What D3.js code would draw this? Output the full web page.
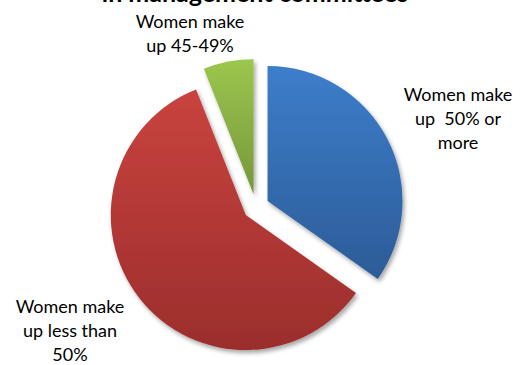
<!DOCTYPE html>
<html>
<head>
<meta charset="utf-8">
<script src="https://cdn.jsdelivr.net/npm/d3@7"></script>
<style>
  body { margin: 0; background: #fff; }
  svg { display: block; }
</style>
</head>
<body>
<svg id="chart"></svg>
<script>
var width = 522;
var height = 365;

// data
var categories = ["Women make up 50% or more", "Women make up less than 50%", "Women make up 45-49%"];
var values = [34.8, 59.2, 6.0];
var labelLines = [
  ["Women make", "up  50% or", "more"],
  ["Women make", "up less than", "50%"],
  ["Women make", "up 45-49%"]
];
var titleText = "in management committees";

// styles / layout
var topColors = ["#3d7dcb", "#c9433f", "#9cc64e"];
var bottomColors = ["#2c5c97", "#9b2e2c", "#76973a"];
var cx = 256, cy = 207, radius = 135, explode = 13;
var labelPos = [[458, 101], [70, 313], [190, 28]];
var lineHeight = 24;

var svg = d3.select("#chart")
  .attr("width", width)
  .attr("height", height);

var defs = svg.append("defs");
var shadow = defs.append("filter")
  .attr("id", "shadow")
  .attr("x", "-20%").attr("y", "-20%")
  .attr("width", "140%").attr("height", "140%");
shadow.append("feDropShadow")
  .attr("dx", 2).attr("dy", 3)
  .attr("stdDeviation", 2.2)
  .attr("flood-color", "#000")
  .attr("flood-opacity", 0.35);

values.forEach(function(v, i){
  var g = defs.append("linearGradient")
    .attr("id", "grad" + i)
    .attr("x1", 0).attr("y1", 0)
    .attr("x2", 0).attr("y2", 1);
  g.append("stop").attr("offset", "0%").attr("stop-color", topColors[i]);
  g.append("stop").attr("offset", "100%").attr("stop-color", bottomColors[i]);
});

var pie = d3.pie().sort(null).value(function(d){ return d; });
var arc = d3.arc().innerRadius(0).outerRadius(radius);
var arcs = pie(values);

var pieG = svg.append("g")
  .attr("transform", "translate(" + cx + "," + cy + ")");

pieG.selectAll("path")
  .data(arcs)
  .join("path")
  .attr("d", arc)
  .attr("fill", function(d, i){ return "url(#grad" + i + ")"; })
  .attr("filter", "url(#shadow)")
  .attr("transform", function(d){
    var mid = (d.startAngle + d.endAngle) / 2;
    return "translate(" + (Math.sin(mid) * explode) + "," + (-Math.cos(mid) * explode) + ")";
  })
  .append("title")
  .text(function(d, i){ return categories[i]; });

// labels
labelLines.forEach(function(lines, i){
  var t = svg.append("text")
    .attr("text-anchor", "middle")
    .attr("font-family", "Lato, 'Liberation Sans', sans-serif")
    .attr("font-size", "18px")
    .attr("fill", "#000");
  lines.forEach(function(line, j){
    t.append("tspan")
      .attr("x", labelPos[i][0])
      .attr("y", labelPos[i][1] + j * lineHeight)
      .style("white-space", "pre")
      .text(line);
  });
});

// title (mostly cut off at the top, as in the original)
svg.append("text")
  .attr("x", 255)
  .attr("y", 2)
  .attr("text-anchor", "middle")
  .attr("font-family", "Lato, 'Liberation Sans', sans-serif")
  .attr("font-weight", "bold")
  .attr("font-size", "25px")
  .text(titleText);
</script>
</body>
</html>
